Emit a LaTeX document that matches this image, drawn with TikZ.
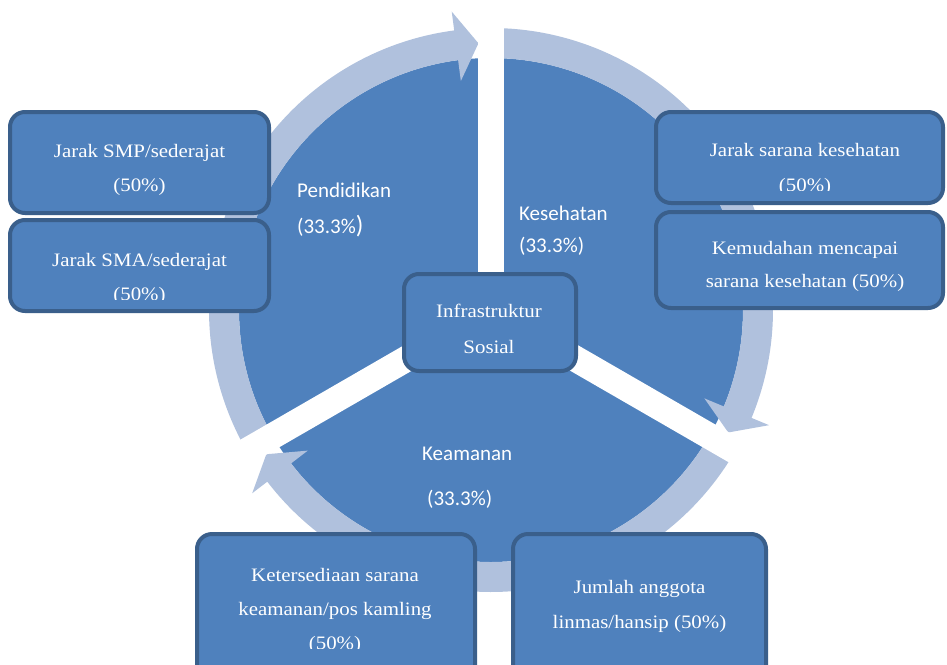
\documentclass[tikz,border=0pt]{standalone}
\usepackage{fontspec}
\setmainfont{Liberation Serif}[FakeStretch=1.1]
\newfontfamily\lblfont{Carlito}
\definecolor{pieblue}{HTML}{4F81BD}
\definecolor{boxline}{HTML}{3A5F8B}
\definecolor{bandblue}{HTML}{B0C1DD}
\begin{document}
\begin{tikzpicture}[x=1pt,y=1pt,
  box/.style={draw=boxline, fill=pieblue, line width=4pt, rounded corners=15pt, rectangle, inner sep=0pt},
  boxtext/.style={text=white, font=\fontsize{19}{19}\selectfont, anchor=base, inner sep=0pt},
  seclabel/.style={text=white, font=\lblfont\fontsize{21}{21}\selectfont, anchor=base west, inner sep=0pt},
  band/.style={fill=bandblue},
  gapstrip/.style={fill=white}]
\useasboundingbox (0,0) rectangle (947,-664);
\clip (0,0) rectangle (947,-664);
\coordinate (C) at (491,-310);
% pie
\fill[pieblue] (C) circle[radius=252];
\begin{scope}[shift={(C)}]
  % circular arrows
  \fill[band] (210:252) arc[start angle=210,end angle=97.5,radius=252] -- (97.5:231) -- (92.7:267) -- (97.5:301) -- (97.5:282) arc[start angle=97.5,end angle=210,radius=282] -- cycle;
  \fill[band] (90:252) arc[start angle=90,end angle=-22.5,radius=252] -- (-22.5:231) -- (-27.3:267) -- (-22.5:301) -- (-22.5:282) arc[start angle=-22.5,end angle=90,radius=282] -- cycle;
  \fill[band] (-30:252) arc[start angle=-30,end angle=-142.5,radius=252] -- (-142.5:231) -- (-147.3:267) -- (-142.5:301) -- (-142.5:282) arc[start angle=-142.5,end angle=-30,radius=282] -- cycle;
  % white gaps between sectors
  \fill[gapstrip, rotate=90] (0,-13) rectangle (330,13);
  \fill[gapstrip, rotate=210] (0,-13) rectangle (330,13);
  \fill[gapstrip, rotate=-30] (0,-13) rectangle (330,13);
\end{scope}
% sector labels
\node[seclabel] (pend) at (297,-197) {Pendidikan};
\node[seclabel] (pendp) at (297,-233) {(33.3\%{\fontsize{25}{25}\selectfont)}};
\node[seclabel] (kes) at (519,-220) {Kesehatan};
\node[seclabel] (kesp) at (519,-252) {(33.3\%)};
\node[seclabel] (kea) at (422,-460) {Keamanan};
\node[seclabel] (keap) at (427,-505) {(33.3\%)};
% boxes
\node[box, minimum width=259pt, minimum height=101pt] (smp) at (139.5,-162.5) {};
\node[box, minimum width=259pt, minimum height=91pt] (sma) at (139.5,-265.5) {};
\node[box, minimum width=287pt, minimum height=91pt] (jks) at (799.5,-157.5) {};
\node[box, minimum width=287pt, minimum height=96pt] (kmd) at (799.5,-260) {};
\node[box, minimum width=172pt, minimum height=97pt] (infra) at (490,-322.5) {};
\node[box, minimum width=278pt, minimum height=154pt] (ket) at (336,-611) {};
\node[box, minimum width=253pt, minimum height=154pt] (jml) at (639.5,-611) {};
% box texts
\node[boxtext] (smp1) at (139.5,-157) {Jarak SMP/sederajat};
\node[boxtext] (smp2) at (139.5,-191) {(50\%)};
\node[boxtext] (sma1) at (139.5,-266) {Jarak SMA/sederajat};
\begin{scope}
  \clip (10,-220) rectangle (269,-299);
  \node[boxtext] (sma2) at (139.5,-300) {(50\%)};
\end{scope}
\node[boxtext] (jks1) at (805,-156) {Jarak sarana kesehatan};
\begin{scope}
  \clip (656,-112) rectangle (943,-190);
  \node[boxtext] (jks2) at (805,-191) {(50\%)};
\end{scope}
\node[boxtext] (kmd1) at (805,-254) {Kemudahan mencapai};
\node[boxtext] (kmd2) at (805,-287) {sarana kesehatan (50\%)};
\node[boxtext] (inf1) at (489,-317) {Infrastruktur};
\node[boxtext] (inf2) at (489,-353) {Sosial};
\node[boxtext] (ket1) at (335,-581) {Ketersediaan sarana};
\node[boxtext] (ket2) at (335,-615) {keamanan/pos kamling};
\begin{scope}
  \clip (197,-534) rectangle (475,-648);
  \node[boxtext] (ket3) at (335,-649) {(50\%)};
\end{scope}
\node[boxtext] (jml1) at (639.5,-593) {Jumlah anggota};
\node[boxtext] (jml2) at (639.5,-628) {linmas/hansip (50\%)};
\end{tikzpicture}
\end{document}
